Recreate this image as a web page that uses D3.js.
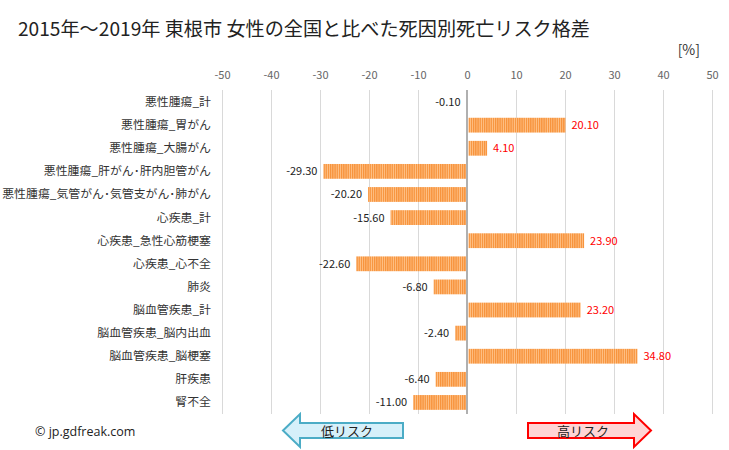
<!DOCTYPE html>
<html><head><meta charset="utf-8">
<script src="https://cdn.jsdelivr.net/npm/d3@7"></script>
<style>body{margin:0;background:#fff;} svg{display:block;font-family:"Noto Sans CJK JP","Noto Sans",sans-serif;}</style>
</head><body>
<script>
const categories = ["悪性腫瘍_計","悪性腫瘍_胃がん","悪性腫瘍_大腸がん","悪性腫瘍_肝がん･肝内胆管がん","悪性腫瘍_気管がん･気管支がん･肺がん","心疾患_計","心疾患_急性心筋梗塞","心疾患_心不全","肺炎","脳血管疾患_計","脳血管疾患_脳内出血","脳血管疾患_脳梗塞","肝疾患","腎不全"];
const values = [-0.10, 20.10, 4.10, -29.30, -20.20, -15.60, 23.90, -22.60, -6.80, 23.20, -2.40, 34.80, -6.40, -11.00];
const tickValues = [-50,-40,-30,-20,-10,0,10,20,30,40,50];
const title = "2015年～2019年 東根市 女性の全国と比べた死因別死亡リスク格差";

const W = 729, H = 450;
const svg = d3.select("body").append("svg").attr("width", W).attr("height", H);

const defs = svg.append("defs");
const pat = defs.append("pattern").attr("id","stripe").attr("patternUnits","userSpaceOnUse")
  .attr("width",2.2).attr("height",10);
pat.append("rect").attr("width",2.2).attr("height",10).attr("fill","#ffc38a");
pat.append("rect").attr("width",1.3).attr("height",10).attr("fill","#f7923a");

const x = d3.scaleLinear().domain([-50,50]).range([222,712]);
const y = d3.scaleBand().domain(categories).range([90.5,414]).paddingInner(0.36).paddingOuter(0.18);
const fmtHy = f => d => f(d).replace("−","-");

// title
svg.append("text").attr("x",18).attr("y",36).attr("font-size",19).attr("fill","#222")
  .attr("textLength",572).attr("lengthAdjust","spacingAndGlyphs").text(title);
svg.append("text").attr("x",700).attr("y",55).attr("text-anchor","end").attr("font-size",14).attr("fill","#333").text("[%]");

// gridlines
svg.append("g").selectAll("line").data(tickValues.filter(v=>v!==0)).join("line")
  .attr("x1",d=>x(d)+0.5).attr("x2",d=>x(d)+0.5).attr("y1",90).attr("y2",414)
  .attr("stroke","#d9d9d9").attr("stroke-width",1);

// top tick labels via axis
const axis = d3.axisTop(x).tickValues(tickValues).tickSize(0).tickFormat(fmtHy(d3.format("d")));
const ag = svg.append("g").attr("transform","translate(0,82)").call(axis);
ag.select(".domain").remove();
ag.selectAll("text").attr("font-size",11).attr("fill","#666").attr("font-family","'Noto Sans CJK JP',sans-serif");

// bars
svg.append("g").selectAll("rect").data(values).join("rect")
  .attr("x",(d)=> d>=0 ? x(0)+1.5 : x(d))
  .attr("width",d=> Math.max(0, Math.abs(x(d)-x(0)) - (d>=0?1.5:0)))
  .attr("y",(d,i)=>y(categories[i]))
  .attr("height",y.bandwidth())
  .attr("fill","url(#stripe)");

// zero line
svg.append("line").attr("x1",x(0)).attr("x2",x(0)).attr("y1",90).attr("y2",414)
  .attr("stroke","#b0b0b0").attr("stroke-width",2);

// category labels
svg.append("g").selectAll("text").data(categories).join("text")
  .attr("x",211).attr("y",d=>y(d)+y.bandwidth()/2+4)
  .attr("text-anchor","end").attr("font-size",11.9).attr("fill","#333").text(d=>d);

// value labels
const vf = fmtHy(d3.format(".2f"));
svg.append("g").selectAll("text").data(values).join("text")
  .attr("x",d=> d>=0 ? x(d)+6 : x(d)-6)
  .attr("y",(d,i)=>y(categories[i])+y.bandwidth()/2+4)
  .attr("text-anchor",d=> d>=0 ? "start" : "end")
  .attr("font-size",11).attr("fill",d=> d>=0 ? "#ff0000" : "#222")
  .text(d=>vf(d));

// arrows
const lp = [[283,430.5],[300,414],[300,423],[403,423],[403,438],[300,438],[300,447]];
svg.append("polygon").attr("points",lp.map(p=>p.join(",")).join(" "))
  .attr("fill","#d6f0fa").attr("stroke","#4bacc6").attr("stroke-width",2);
svg.append("text").attr("x",347).attr("y",436).attr("text-anchor","middle").attr("font-size",13).attr("fill","#222").text("低リスク");
const rp = [[651,430.5],[634,414],[634,423],[528,423],[528,438],[634,438],[634,447]];
svg.append("polygon").attr("points",rp.map(p=>p.join(",")).join(" "))
  .attr("fill","#ffd5d5").attr("stroke","#ff0000").attr("stroke-width",2);
svg.append("text").attr("x",583).attr("y",436).attr("text-anchor","middle").attr("font-size",13).attr("fill","#222").text("高リスク");

svg.append("text").attr("x",35).attr("y",436).attr("font-size",12.5).attr("fill","#222")
  .attr("font-family","'Open Sans','Noto Sans',sans-serif").text("© jp.gdfreak.com");
</script>
</body></html>
